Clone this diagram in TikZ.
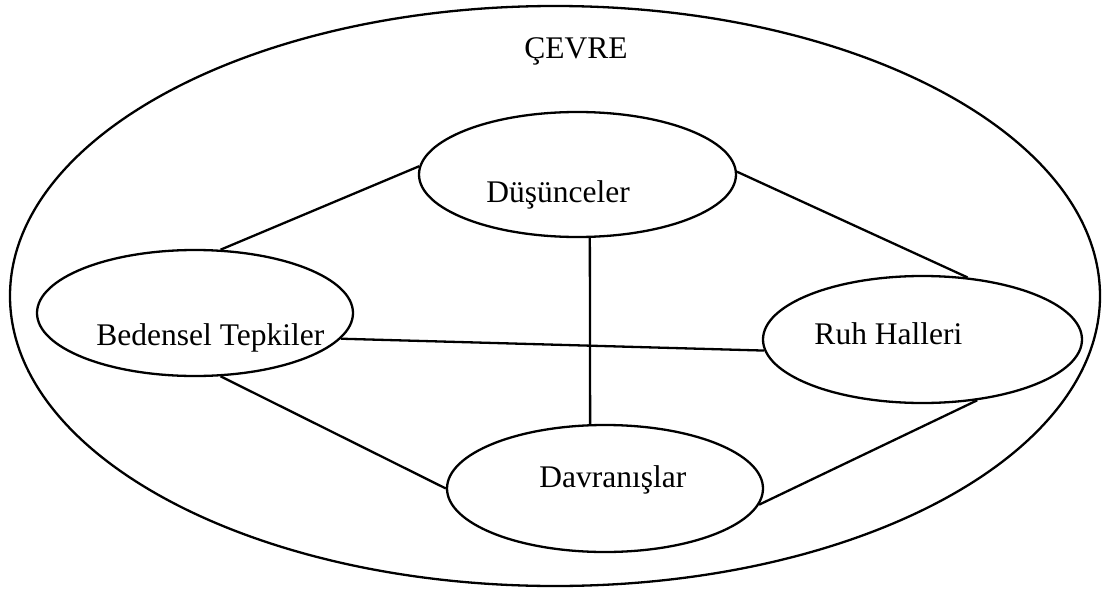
\documentclass[tikz,border=0pt]{standalone}
\usepackage{fontspec}
\setmainfont{Liberation Serif}
\usetikzlibrary{shapes.geometric}

\begin{document}
\begin{tikzpicture}[x=1pt, y=-1pt, line width=2.3pt,
  oval/.style={draw, ellipse, inner sep=0pt},
  lbl/.style={anchor=base west, font=\fontsize{31.5}{36}\selectfont}]

\useasboundingbox (0,0) rectangle (1109,589);

% outer environment
\node[oval, minimum width=1090pt, minimum height=580pt] (cevre) at (555,296) {};
\node[lbl] (cevretxt) at (520,58) {ÇEVRE};

% inner ellipses
\node[oval, minimum width=317pt, minimum height=125pt] (dus) at (577.5,174.5) {};
\node[lbl] (dustxt) at (482,202) {Düşünceler};

\node[oval, minimum width=316pt, minimum height=126pt] (bed) at (195,313) {};
\node[lbl] (bedtxt) at (92,345) {Bedensel Tepkiler};

\node[oval, minimum width=319pt, minimum height=127pt] (ruh) at (922.5,339.5) {};
\node[lbl] (ruhtxt) at (810,344) {Ruh Halleri};

\node[oval, minimum width=316pt, minimum height=127pt] (dav) at (605,488.5) {};
\node[lbl] (davtxt) at (535,487) {Davranışlar};

% connections
\draw (dus.177.6) -- (bed.68.4);
\draw (dus.1.6) -- (ruh.54.8);
\draw (dus.281.3) -- (dav.103.3);
\draw (bed.350.4) -- (ruh.184.5);
\draw (bed.292.9) -- (dav.180.5);
\draw (dav.354) -- (ruh.312.6);

\end{tikzpicture}
\end{document}
